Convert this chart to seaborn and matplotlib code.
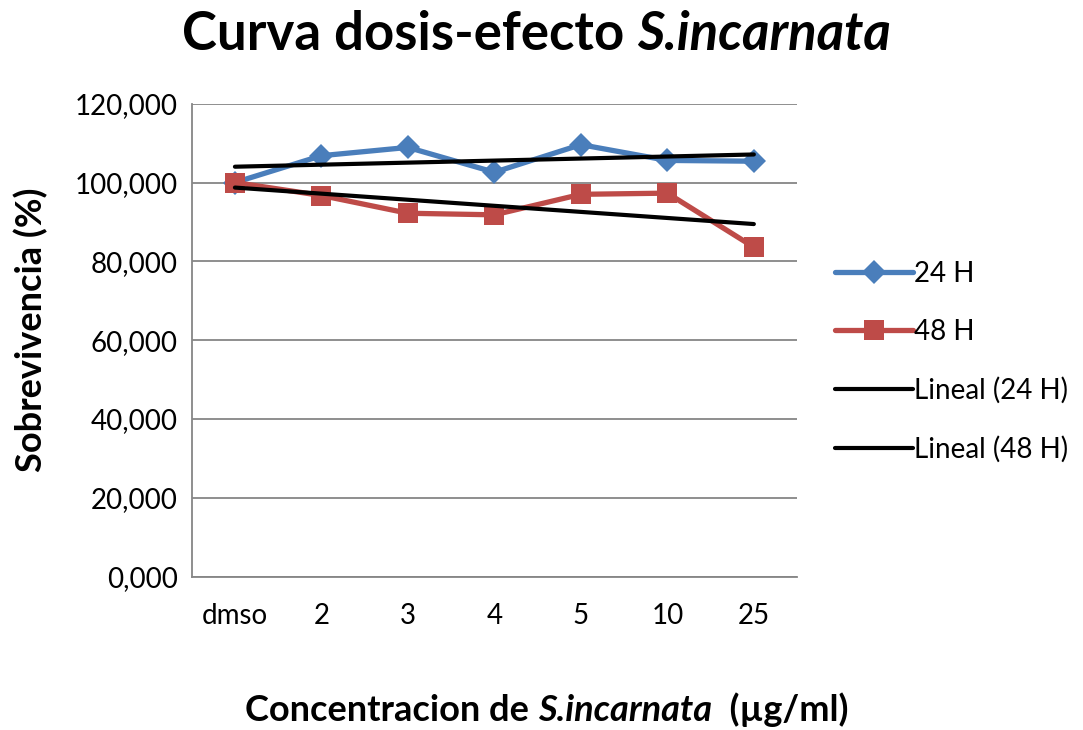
import numpy as np
import pandas as pd
import seaborn as sns
import matplotlib.pyplot as plt

categories = ["dmso", "2", "3", "4", "5", "10", "25"]
surv_24h = [100.0, 106.8, 108.9, 102.6, 109.6, 105.6, 105.4]
surv_48h = [100.0, 96.7, 92.2, 91.8, 97.0, 97.3, 83.6]
yticks = [0, 20, 40, 60, 80, 100, 120]

blue = "#4A7EBB"
red = "#BE4B48"

sns.set_style("white")
plt.rcParams['font.family'] = ['Lato', 'DejaVu Sans']
plt.rcParams['text.color'] = 'black'
plt.rcParams['xtick.color'] = 'black'
plt.rcParams['ytick.color'] = 'black'

fig = plt.figure(figsize=(10.83, 7.30), dpi=100)
ax = fig.add_axes([0.177, 0.210, 0.559, 0.648])

x = np.arange(len(categories))
df = pd.DataFrame({"x": x, "24 H": surv_24h, "48 H": surv_48h})

sns.lineplot(data=df, x="x", y="24 H", ax=ax, color=blue, lw=3.8,
             marker="D", markersize=12, markeredgewidth=0, label="24 H")
sns.lineplot(data=df, x="x", y="48 H", ax=ax, color=red, lw=3.8,
             marker="s", markersize=15, markeredgewidth=0, label="48 H")

# linear trendlines, fitted the same way the spreadsheet does (x = 1..7)
xs = x + 1
for col, name in [("24 H", "Lineal (24 H)"), ("48 H", "Lineal (48 H)")]:
    k, b = np.polyfit(xs, df[col], 1)
    ax.plot(x, k * xs + b, color="black", lw=3.0, label=name,
            solid_capstyle="round")

ax.set_xlim(-0.5, len(categories) - 0.5)
ax.set_ylim(0, 120)
ax.set_xticks(x)
ax.set_xticklabels(categories)
ax.set_yticks(yticks)
ax.set_yticklabels([f"{v},000" for v in yticks])
ax.tick_params(axis="both", labelsize=20, length=0, pad=10)
ax.tick_params(axis="x", pad=19)
ax.yaxis.grid(True, color="#868686", lw=1.3)
ax.set_axisbelow(True)
for s in ["top", "right"]:
    ax.spines[s].set_visible(False)
for s in ["left", "bottom"]:
    ax.spines[s].set_color("#868686")
    ax.spines[s].set_linewidth(1.3)
ax.set_xlabel("")
ax.set_ylabel("")
fig.text(31 / 1083, 1 - 330 / 730, "Sobrevivencia (%)", fontsize=26,
         fontweight="bold", rotation=90, ha="center", va="center")

ax.legend(loc="center left", bbox_to_anchor=(1.021, 0.454), frameon=False,
          fontsize=20, handlelength=2.8, handletextpad=0.05, labelspacing=1.15)


def rich_text(parts, cx, y, size):
    # draw pieces side by side, centred on cx (figure pixels)
    fig.canvas.draw()
    r = fig.canvas.get_renderer()
    texts = []
    for s, style in parts:
        t = fig.text(0, y, s, fontsize=size, fontweight="bold", fontstyle=style,
                     va="baseline", ha="left")
        texts.append(t)
    widths = [t.get_window_extent(r).width for t in texts]
    start = cx - sum(widths) / 2
    W = fig.bbox.width
    for t, w in zip(texts, widths):
        t.set_x(start / W)
        start += w


rich_text([("Curva dosis-efecto ", "normal"), ("S.incarnata", "italic")],
          536, 1 - 50 / 730, 38)
rich_text([("Concentracion de ", "normal"), ("S.incarnata", "italic"),
           ("  (µg/ml)", "normal")], 547, 1 - 721 / 730, 26)

fig.savefig("out.png", dpi=100)
